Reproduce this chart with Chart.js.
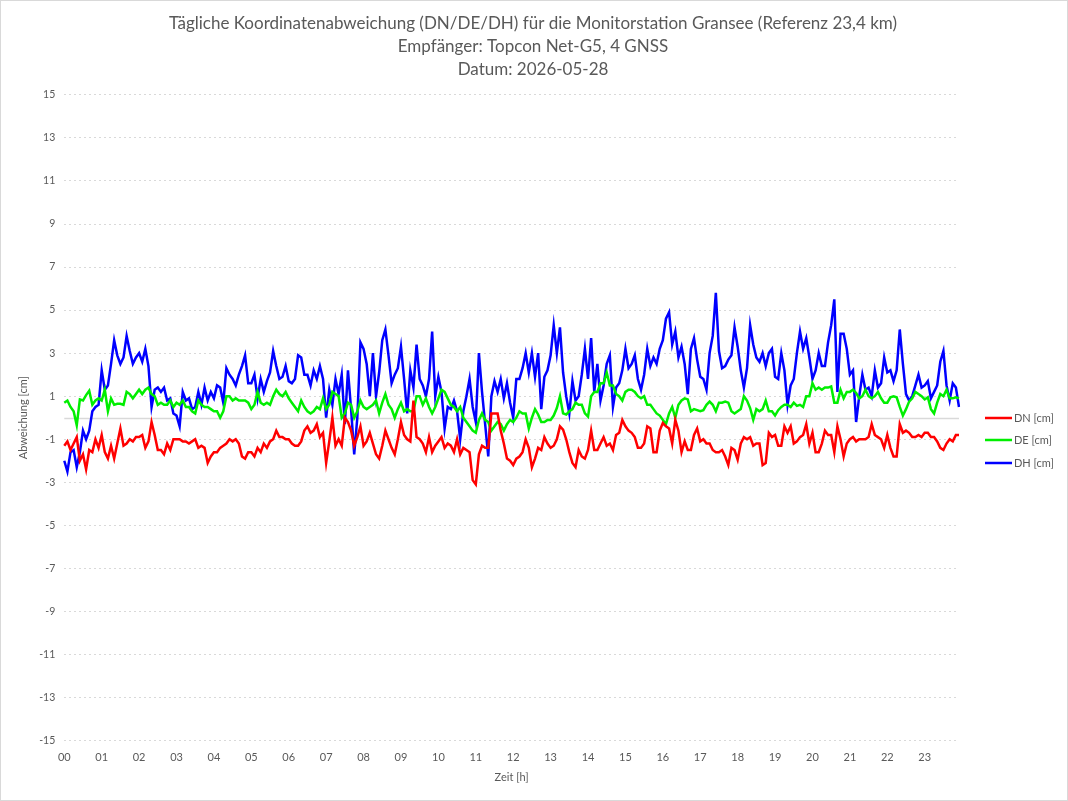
<!DOCTYPE html>
<html>
<head>
<meta charset="utf-8">
<script src="https://cdn.jsdelivr.net/npm/chart.js@4.4.1/dist/chart.umd.min.js"></script>
<style>
  html, body { margin: 0; padding: 0; background: #fff; }
  #wrap { width: 1068px; height: 801px; box-sizing: border-box; border: 1px solid #d9d9d9; }
</style>
</head>
<body>
<div id="wrap"><canvas id="chart" width="1066" height="799"></canvas></div>
<script>
// Hour tick labels (one every 12 samples, 5-minute data)
const hourLabels = ['00', '01', '02', '03', '04', '05', '06', '07', '08', '09', '10', '11',
                    '12', '13', '14', '15', '16', '17', '18', '19', '20', '21', '22', '23'];
const yTicks = [-15, -13, -11, -9, -7, -5, -3, -1, 1, 3, 5, 7, 9, 11, 13, 15];

// DN [cm], one row per hour
const dn = [
  -1.3, -1.1, -1.5, -1.2, -0.9, -2.0, -1.7, -2.4, -1.5, -1.6, -1.0, -1.4,
  -0.8, -1.6, -1.9, -1.3, -1.9, -1.2, -0.5, -1.3, -1.2, -1.0, -1.1, -0.9,
  -0.9, -0.8, -1.4, -1.1, -0.2, -0.8, -1.5, -1.5, -1.7, -1.2, -1.5, -1.0,
  -1.0, -1.0, -1.1, -1.1, -1.2, -1.1, -1.0, -1.4, -1.3, -1.4, -2.1, -1.8,
  -1.6, -1.6, -1.4, -1.3, -1.2, -1.0, -1.1, -1.0, -1.2, -1.8, -1.9, -1.6,
  -1.6, -1.8, -1.4, -1.6, -1.2, -1.4, -1.1, -1.0, -0.6, -0.9, -0.9, -1.0,
  -1.0, -1.2, -1.3, -1.3, -1.1, -0.6, -0.4, -0.7, -0.6, -0.3, -0.9, -0.7,
  -2.1, -1.1, 0.0, -1.3, -1.0, -1.3, 0.0, -0.2, -0.6, -1.3, -0.9, -0.4,
  -1.3, -1.1, -0.7, -1.2, -1.7, -1.9, -1.3, -0.6, -1.0, -1.4, -1.7, -1.0,
  -0.2, -0.8, -1.0, -1.1, 0.8, -0.9, -1.0, -1.2, -1.6, -0.9, -1.6, -1.3,
  -1.1, -0.9, -1.4, -1.2, -1.3, -1.6, -1.0, -1.7, -1.4, -1.5, -1.6, -2.9,
  -3.1, -1.7, -1.3, -1.4, -1.4, 0.2, 0.2, 0.2, -0.6, -1.2, -1.9, -2.0,
  -2.2, -1.9, -1.8, -1.6, -1.0, -1.4, -2.3, -1.9, -1.4, -1.5, -0.9, -1.2,
  -1.4, -1.3, -1.0, -0.4, -0.55, -1.0, -1.6, -2.1, -2.3, -1.5, -1.8, -1.9,
  -1.5, -0.6, -1.5, -1.5, -1.2, -0.9, -1.3, -1.2, -1.5, -0.8, -0.7, -0.1,
  -0.4, -0.6, -0.7, -0.9, -1.4, -1.4, -1.2, -0.4, -0.5, -1.6, -1.6, -0.6,
  -0.25, -0.4, -0.5, -1.2, -0.1, -0.6, -1.6, -1.1, -1.5, -1.5, -0.8, -0.5,
  -1.1, -1.0, -1.2, -1.2, -1.5, -1.6, -1.6, -1.5, -1.8, -2.2, -1.4, -1.5,
  -1.95, -1.2, -0.9, -1.0, -0.9, -1.3, -1.2, -1.2, -2.2, -2.1, -0.7, -0.9,
  -0.8, -1.3, -1.3, -0.4, -0.7, -0.4, -1.2, -1.1, -0.9, -0.8, -0.3, -1.2,
  -0.7, -1.6, -1.6, -1.2, -0.6, -0.8, -0.8, -1.6, -0.4, -1.0, -1.8, -1.2,
  -1.0, -0.9, -1.1, -1.0, -1.0, -1.0, -0.9, -0.3, -0.8, -0.9, -1.0, -1.4,
  -0.8, -1.4, -1.8, -1.8, -0.3, -0.7, -0.6, -0.7, -0.9, -0.9, -0.8, -0.9,
  -0.7, -0.7, -0.9, -0.9, -1.1, -1.4, -1.5, -1.2, -1.0, -1.1, -0.8, -0.8
];

// DE [cm]
const de = [
  0.7, 0.8, 0.5, 0.3, -0.35, 0.85, 0.8, 1.05, 1.25, 0.6, 0.8, 0.9,
  0.8, 1.3, 0.3, 0.9, 0.6, 0.65, 0.65, 0.6, 1.2, 1.1, 0.9, 1.1,
  1.3, 1.1, 1.3, 1.4, 1.1, 1.0, 0.6, 0.7, 0.6, 0.6, 0.8, 0.5,
  0.7, 0.6, 0.8, 0.5, 0.5, 0.3, 0.2, 0.8, 0.6, 0.5, 0.5, 0.4,
  0.3, 0.3, 0.0, 0.3, 1.0, 1.0, 0.8, 0.9, 0.8, 0.8, 0.8, 0.7,
  0.4, 0.6, 1.2, 0.7, 0.6, 0.7, 0.6, 1.0, 1.3, 1.1, 1.0, 1.2,
  0.9, 0.7, 0.5, 0.3, 0.8, 0.5, 0.3, 0.2, 0.3, 0.5, 0.4, 0.9,
  0.4, 0.6, 1.2, 1.1, 1.0, 0.0, 0.2, 0.7, 0.6, 0.0, 0.3, 0.8,
  0.5, 0.4, 0.5, 0.6, 0.8, 0.2, 0.7, 1.1, 0.6, 0.4, 0.0, 0.4,
  0.7, 0.3, 0.4, 0.3, 0.3, 1.0, 1.0, 0.6, 0.9, 0.5, 0.2, 0.5,
  0.9, 1.3, 1.2, 0.9, 0.6, 0.5, 0.3, 0.5, 0.0, -0.2, -0.4, -0.6,
  -0.7, -0.1, 0.2, -0.1, -0.2, -0.6, -0.4, -0.2, -0.3, -0.6, -0.3, -0.1,
  -0.2, 0.0, 0.3, 0.2, 0.2, -0.5, 0.0, 0.4, 0.15, -0.2, -0.2, -0.1,
  -0.1, 0.1, 0.45, 1.0, 0.2, 0.15, 0.3, 0.4, 0.7, 0.6, 0.6, 0.2,
  0.05, 1.0, 1.2, 1.2, 1.6, 1.6, 2.1, 1.5, 1.5, 1.1, 1.0, 0.8,
  1.2, 1.3, 1.3, 1.2, 1.0, 0.9, 1.0, 0.6, 0.6, 0.4, 0.2, 0.1,
  -0.1, -0.3, 0.2, 0.5, 0.0, 0.6, 0.8, 0.9, 0.85, 0.3, 0.4, 0.35,
  0.3, 0.35, 0.6, 0.75, 0.6, 0.3, 0.7, 0.7, 0.75, 0.7, 0.3, 0.2,
  0.3, 0.4, 1.0, 0.8, 0.45, -0.1, 0.4, 0.3, 0.4, 0.8, 0.3, 0.3,
  0.1, 0.35, 0.5, 0.6, 0.6, 0.5, 0.7, 0.55, 0.6, 0.5, 1.0, 1.0,
  1.6, 1.3, 1.4, 1.3, 1.4, 1.4, 1.45, 0.7, 0.7, 1.3, 0.9, 1.2,
  1.2, 1.3, 1.15, 0.9, 1.0, 1.3, 1.0, 0.9, 1.0, 1.2, 0.9, 0.7,
  0.7, 0.95, 1.0, 0.95, 0.5, 0.1, 0.4, 0.75, 0.9, 1.2, 1.1, 1.0,
  0.85, 0.95, 0.4, 0.2, 0.7, 1.1, 1.0, 1.3, 0.9, 0.9, 0.95, 0.9
];

// DH [cm]
const dh = [
  -2.0, -2.5, -1.6, -1.5, -2.3, -1.6, -0.6, -1.0, -0.6, 0.3, 0.5, 0.6,
  2.2, 1.3, 1.5, 2.5, 3.6, 2.9, 2.5, 2.8, 3.8, 3.1, 2.5, 2.8,
  3.0, 2.6, 3.2, 2.4, 0.5, 1.3, 1.4, 1.2, 1.4, 0.8, 0.9, 0.2,
  0.1, -0.4, 1.2, 0.8, 0.9, 0.4, 0.5, 1.2, 0.6, 1.4, 0.8, 1.2,
  0.9, 1.5, 1.4, 0.7, 2.3, 2.0, 1.8, 1.5, 2.0, 2.4, 2.9, 1.6,
  1.6, 2.0, 0.9, 1.8, 1.2, 1.7, 2.1, 3.1, 2.4, 1.8, 1.9, 2.4,
  1.7, 1.6, 1.8, 2.9, 2.8, 2.0, 2.0, 1.5, 2.2, 1.8, 2.4, 1.8,
  0.0, 1.3, 0.6, 1.8, 1.1, 2.0, -0.3, 2.2, 0.4, -1.7, 0.0, 3.5,
  3.2, 2.5, 1.0, 3.0, 1.0, 2.1, 3.6, 4.1, 2.9, 1.6, 2.0, 2.3,
  3.3, 1.8, 0.2, 2.2, 1.4, 3.4, 1.8, 1.5, 1.0, 1.8, 4.0, 1.0,
  1.9, 1.2, -0.5, 0.5, 0.4, 0.8, 0.3, -1.0, 0.3, 1.0, 1.8, 0.5,
  -0.2, 3.0, 1.2, -0.3, -1.8, 1.0, 1.7, 1.2, 1.8, 0.9, 1.6, 0.7,
  0.0, 1.8, 1.8, 2.3, 3.0, 2.1, 3.0, 1.9, 3.0, 0.4, 1.9, 2.2,
  2.9, 4.3, 3.0, 4.2, 2.1, 1.0, 0.2, 1.7, 0.8, 1.0, 2.0, 3.2,
  1.8, 3.7, 1.2, 2.5, 0.8, 1.5, 2.5, 2.9, 0.5, 1.4, 1.6, 2.2,
  3.2, 2.3, 2.5, 2.9, 1.8, 1.3, 2.0, 3.2, 2.4, 2.8, 2.5, 3.2,
  3.6, 4.6, 4.9, 3.4, 4.0, 2.8, 3.3, 2.5, 1.1, 3.2, 3.7, 2.7,
  1.9, 1.8, 1.3, 3.0, 3.8, 5.8, 3.1, 2.3, 2.4, 2.7, 2.9, 4.2,
  3.3, 2.2, 1.4, 2.3, 4.3, 3.4, 2.8, 2.6, 3.0, 2.4, 3.0, 3.2,
  1.9, 1.8, 3.0, 2.2, 0.6, 1.5, 1.8, 3.0, 4.0, 3.2, 3.7, 2.8,
  1.8, 2.2, 3.0, 2.4, 2.4, 3.5, 4.3, 5.5, 1.2, 3.9, 3.9, 3.2,
  2.0, 2.2, -0.2, 1.0, 2.0, 1.3, 1.4, 1.0, 2.2, 1.4, 1.6, 2.8,
  2.1, 2.2, 1.7, 2.2, 4.1, 2.5, 1.1, 0.8, 1.0, 1.5, 2.0, 1.4,
  1.5, 1.7, 0.9, 1.2, 1.5, 2.6, 3.1, 1.5, 0.8, 1.6, 1.4, 0.5
];

// one category per sample, labelled only at full hours
const samplesPerHour = 12;
const labels = dn.map((v, i) => i % samplesPerHour === 0 ? hourLabels[i / samplesPerHour] : '');

const FONT = "Lato, 'Open Sans', sans-serif";
const TEXT = '#595959';

// solid horizontal line at 0 (the category axis crossing)
const zeroLine = {
    id: 'zeroLine',
    beforeDatasetsDraw(chart) {
        const { ctx, chartArea, scales } = chart;
        const y = Math.round(scales.y.getPixelForValue(0)) + 0.5;
        ctx.save();
        ctx.strokeStyle = '#d9d9d9';
        ctx.lineWidth = 1.5;
        ctx.beginPath();
        ctx.moveTo(chartArea.left, y);
        ctx.lineTo(chartArea.right, y);
        ctx.stroke();
        ctx.restore();
    }
};

// Excel-style legend: short line + label, stacked right of the plot
const sideLegend = {
    id: 'sideLegend',
    afterDraw(chart) {
        const { ctx, chartArea } = chart;
        const x0 = chartArea.right + 26;
        const yMid = (chartArea.top + chartArea.bottom) / 2;
        ctx.save();
        ctx.font = '11px ' + FONT;
        ctx.textBaseline = 'middle';
        ctx.textAlign = 'left';
        chart.data.datasets.forEach((ds, i) => {
            const y = Math.round(yMid + i * 22.5);
            ctx.strokeStyle = ds.borderColor;
            ctx.lineWidth = ds.borderWidth;
            ctx.beginPath();
            ctx.moveTo(x0, y);
            ctx.lineTo(x0 + 27, y);
            ctx.stroke();
            ctx.fillStyle = TEXT;
            ctx.fillText(ds.label, x0 + 29, y);
        });
        ctx.restore();
    }
};

function series(label, values, color) {
    return {
        label: label,
        data: values,
        borderColor: color,
        backgroundColor: color,
        borderWidth: 2.5,
        pointRadius: 0,
        tension: 0,
        fill: false
    };
}

const ctx = document.getElementById('chart').getContext('2d');
new Chart(ctx, {
    type: 'line',
    data: {
        labels: labels,
        datasets: [
            series('DN [cm]', dn, '#ff0000'),
            series('DE [cm]', de, '#00ee00'),
            series('DH [cm]', dh, '#0000ff')
        ]
    },
    options: {
        responsive: false,
        animation: false,
        layout: { padding: { left: 6, right: 8, top: 8, bottom: 16 } },
        scales: {
            x: {
                grid: { display: false },
                border: { display: false },
                ticks: {
                    autoSkip: false,
                    maxRotation: 0,
                    minRotation: 0,
                    padding: 2,
                    color: TEXT,
                    font: { family: FONT, size: 11 }
                },
                title: {
                    display: true,
                    text: 'Zeit [h]',
                    color: TEXT,
                    font: { family: FONT, size: 11 },
                    padding: { top: 5, bottom: 0 }
                }
            },
            y: {
                min: -15,
                max: 15,
                afterBuildTicks: (scale) => { scale.ticks = yTicks.map(v => ({ value: v })); },
                grid: { color: '#d9d9d9', lineWidth: 1, drawTicks: false },
                border: { display: false, dash: [2, 3] },
                ticks: {
                    padding: 9,
                    color: TEXT,
                    font: { family: FONT, size: 10.5 }
                },
                title: {
                    display: true,
                    text: 'Abweichung [cm]',
                    color: TEXT,
                    font: { family: FONT, size: 11 },
                    padding: { top: 10, bottom: 0 }
                }
            },
            // empty right-hand strip that holds the legend
            legendSpace: {
                position: 'right',
                display: true,
                grid: { display: false },
                border: { display: false },
                ticks: { display: false },
                afterFit: (scale) => { scale.width = 100; }
            }
        },
        plugins: {
            title: {
                display: true,
                text: ['Tägliche Koordinatenabweichung (DN/DE/DH) für die Monitorstation Gransee (Referenz 23,4 km)',
                       'Empfänger: Topcon Net-G5, 4 GNSS',
                       'Datum: 2026-05-28'],
                color: TEXT,
                font: { family: FONT, size: 17, weight: 'normal', lineHeight: 1.35 },
                padding: { top: 3, bottom: 14 }
            },
            legend: { display: false },
            tooltip: { enabled: false }
        }
    },
    plugins: [zeroLine, sideLegend]
});
</script>
</body>
</html>
